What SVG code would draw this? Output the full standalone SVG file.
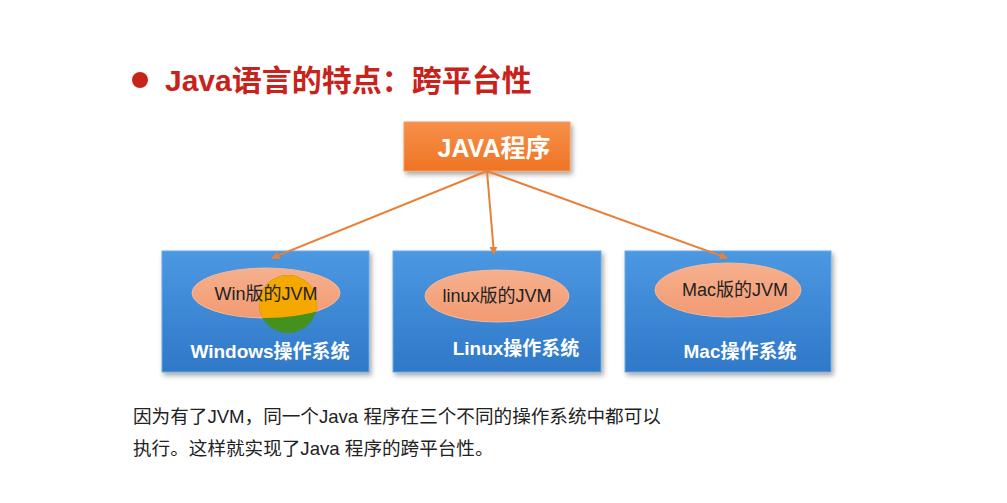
<svg xmlns="http://www.w3.org/2000/svg" width="1007" height="503" viewBox="0 0 1007 503">
<defs>
<linearGradient id="gOrange" x1="0" y1="0" x2="0" y2="1">
<stop offset="0" stop-color="#f7904a"/><stop offset="1" stop-color="#ee7424"/>
</linearGradient>
<linearGradient id="gBlue" x1="0" y1="0" x2="0" y2="1">
<stop offset="0" stop-color="#4c98e2"/><stop offset="1" stop-color="#2f78c8"/>
</linearGradient>
<linearGradient id="gSalmon" x1="0" y1="0" x2="0" y2="1">
<stop offset="0" stop-color="#f6b08d"/><stop offset="1" stop-color="#f29a72"/>
</linearGradient>
<clipPath id="winEll"><ellipse cx="266" cy="293" rx="74" ry="25"/></clipPath>
<filter id="shadow" x="-10%" y="-10%" width="125%" height="130%">
<feDropShadow dx="2" dy="3" stdDeviation="2.5" flood-color="#000" flood-opacity="0.35"/>
</filter>
<marker id="arrow" viewBox="0 0 10 10" refX="9" refY="5" markerWidth="8" markerHeight="8" orient="auto-start-reverse" markerUnits="userSpaceOnUse">
<path d="M0,0 L10,5 L0,10 z" fill="#e8803a"/>
</marker>
<style>
.title{font-family:"Liberation Sans","Noto Sans CJK SC",sans-serif;font-weight:bold;font-size:30px;fill:#c8231b}
.prog{font-family:"Liberation Sans","Noto Sans CJK SC",sans-serif;font-weight:bold;font-size:25px;fill:#ffffff}
.os{font-family:"Liberation Sans","Noto Sans CJK SC",sans-serif;font-weight:bold;font-size:19px;fill:#ffffff}
.jvm{font-family:"Liberation Sans","Noto Sans CJK SC",sans-serif;font-size:18px;fill:#222222}
.body{font-family:"Liberation Sans","Noto Sans CJK SC",sans-serif;font-size:18.6px;fill:#222222}
.box{fill:url(#gBlue);stroke:#6aa9e6;stroke-width:1;filter:url(#shadow)}
.ell{fill:url(#gSalmon);stroke:#f4b89a;stroke-width:1}
.conn{stroke:#e8803a;stroke-width:2;fill:none;marker-end:url(#arrow)}
</style>
</defs>
<rect width="1007" height="503" fill="#ffffff"/>

<g id="title">
<circle cx="140" cy="80" r="8" fill="#c8231b"/>
<text class="title" x="165" y="91">Java语言的特点：跨平台性</text>
</g>

<g id="java-program">
<rect x="404" y="122" width="166" height="49" fill="url(#gOrange)" stroke="#f59a5c" filter="url(#shadow)"/>
<text class="prog" x="494" y="157" text-anchor="middle">JAVA程序</text>
</g>

<g id="windows">
<rect class="box" x="162" y="251" width="207" height="121"/>
<ellipse class="ell" cx="266" cy="293" rx="74" ry="25"/>
<circle cx="288" cy="304" r="29" fill="#45911d"/>
<circle cx="288" cy="304" r="29" fill="#f5a800" clip-path="url(#winEll)"/>
<text class="jvm" x="266" y="300" text-anchor="middle">Win版的JVM</text>
<text class="os" x="270" y="358" text-anchor="middle">Windows操作系统</text>
</g>

<g id="linux">
<rect class="box" x="393" y="251" width="208" height="121"/>
<ellipse class="ell" cx="497" cy="296" rx="72" ry="26"/>
<text class="jvm" x="497" y="302" text-anchor="middle">linux版的JVM</text>
<text class="os" x="516" y="355" text-anchor="middle">Linux操作系统</text>
</g>

<g id="mac">
<rect class="box" x="625" y="251" width="206" height="121"/>
<ellipse class="ell" cx="728" cy="290" rx="73" ry="27"/>
<text class="jvm" x="735" y="296" text-anchor="middle">Mac版的JVM</text>
<text class="os" x="740" y="358" text-anchor="middle">Mac操作系统</text>
</g>

<g id="connectors">
<line class="conn" x1="487" y1="171" x2="272" y2="258"/>
<line class="conn" x1="487" y1="171" x2="494" y2="254"/>
<line class="conn" x1="487" y1="171" x2="727" y2="258"/>
</g>

<g id="caption">
<text class="body" x="133" y="423">因为有了JVM，同一个Java 程序在三个不同的操作系统中都可以</text>
<text class="body" x="133" y="455">执行。这样就实现了Java 程序的跨平台性。</text>
</g>
</svg>
